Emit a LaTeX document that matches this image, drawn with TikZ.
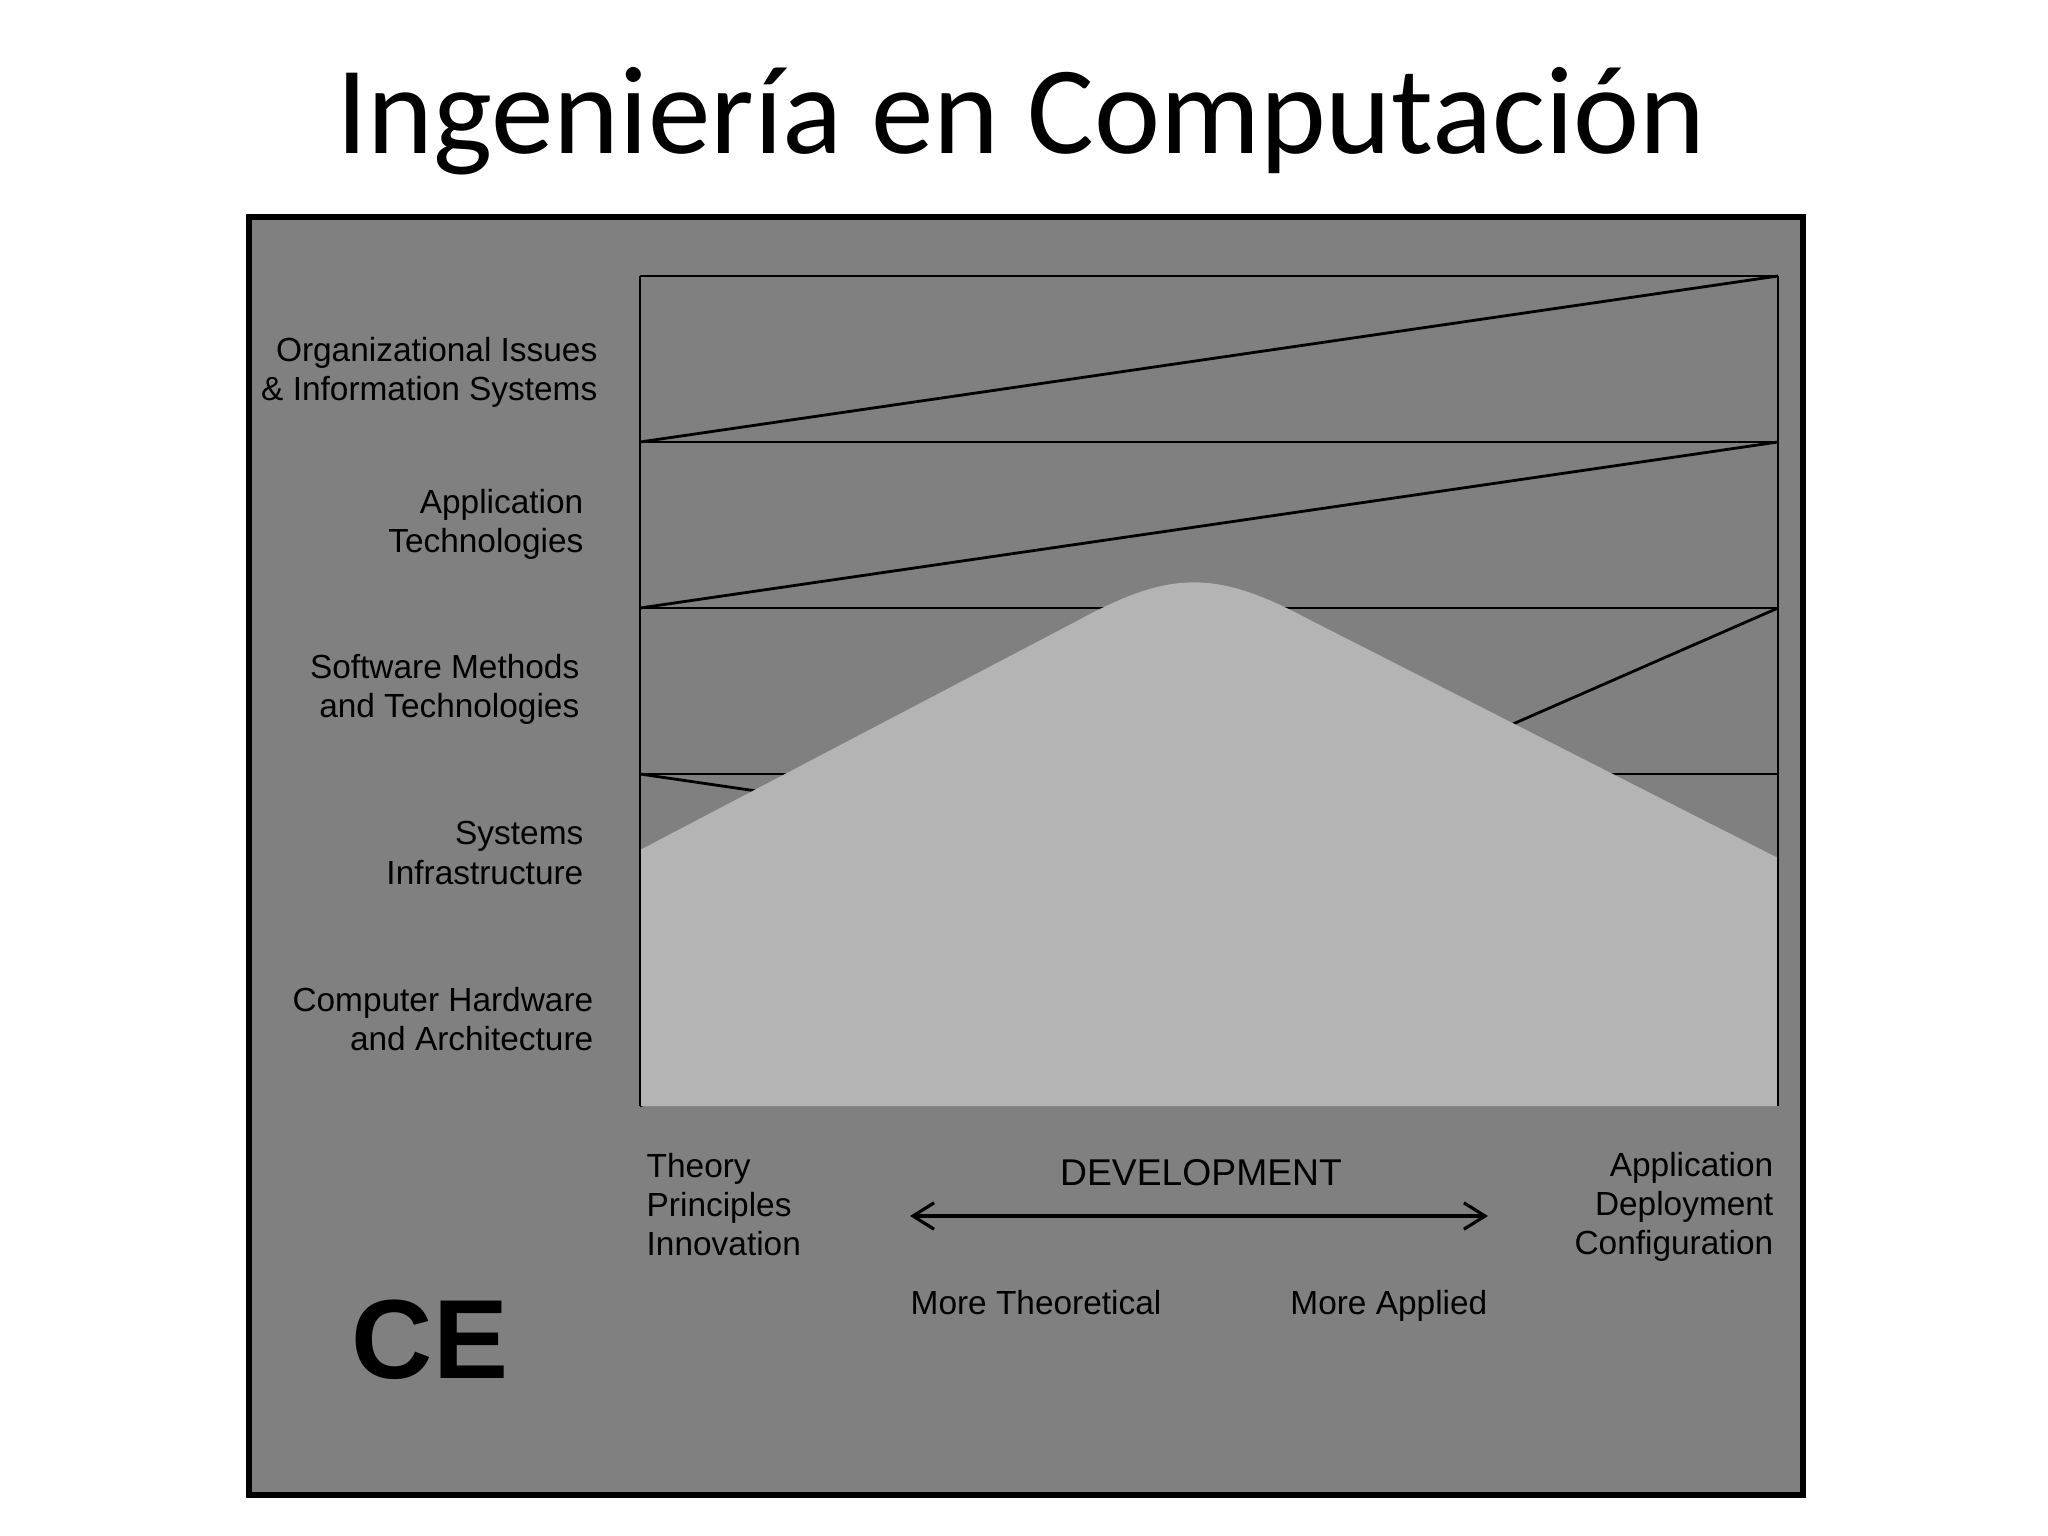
\documentclass[tikz,border=0pt]{standalone}
\usepackage{fontspec}
\setmainfont{Liberation Sans}
\newfontfamily\titrefont{Carlito}
\usetikzlibrary{arrows.meta}
\definecolor{mongris}{RGB}{128,128,128}
\definecolor{monclair}{RGB}{180,180,180}
\tikzset{
	etiquette/.style={align=right,anchor=east,inner sep=0pt,font=\fontsize{9.5}{11.1}\selectfont},
	trait/.style={line width=0.8pt},
	pointe/.tip={Straight Barb[length=6pt,width=7.5pt]}
}

\begin{document}
\begin{tikzpicture}[x=0.01cm,y=-0.01cm]
	\useasboundingbox (0,0) rectangle (2048,1536);
	% Titre %
	\node[anchor=base,inner sep=0pt] (titre) at (1021,153) {\titrefont\fontsize{35.6}{40}\selectfont Ingeniería en Computación};
	% Cadre %
	\filldraw[line width=1.7pt,fill=mongris] (249,217) rectangle (1803,1495);
	% Grille %
	\foreach \i in {0,...,5} {
		\coordinate (g\i) at (640,276+166*\i);
		\coordinate (d\i) at (1778,276+166*\i);
	}
	\foreach \i in {0,...,4} \draw[trait] (g\i) -- (d\i);
	\draw[trait] (g1) -- (d0);
	\draw[trait] (g2) -- (d1);
	\draw[trait] (d2) -- (g5);
	\draw[trait] (g3) -- (d4);
	% Colline %
	\fill[monclair] (640,850) -- (1075,622) .. controls (1170,570) and (1215,569) .. (1310,620) -- (1778,858) -- (d5) -- (g5) -- cycle;
	\draw[trait] (g0) -- (g5);
	\draw[trait] (d0) -- (d5);
	% Domaines %
	\node[etiquette] (orga) at (598,372) {Organizational Issues\\\& Information Systems};
	\node[etiquette] (appli) at (584,524) {Application\\Technologies};
	\node[etiquette] (logiciel) at (580,689) {Software Methods\\and Technologies};
	\node[etiquette] (systemes) at (584,853) {Systems\\Infrastructure};
	\node[etiquette] (materiel) at (594,1019) {Computer Hardware\\and Architecture};
	% Axe %
	\node[etiquette,anchor=west,align=left] (theorie) at (646,1205) {Theory\\Principles\\Innovation};
	\node[etiquette] (deploiement) at (1774,1207) {Application\\Deployment\\Configuration};
	\node[inner sep=0pt,anchor=base,font=\fontsize{10.6}{12}\selectfont] (dev) at (1201,1185) {DEVELOPMENT};
	\coordinate (flecheg) at (910,1216);
	\coordinate (fleched) at (1488,1216);
	\draw[line width=0.9pt,pointe-pointe] (flecheg) -- (fleched);
	\node[etiquette,anchor=west] (plustheo) at (910,1303) {More Theoretical};
	\node[etiquette] (plusappl) at (1488,1306) {More Applied};
	\node[inner sep=0pt,anchor=base,font=\bfseries\fontsize{32}{36}\selectfont] (ce) at (430,1378) {CE};
\end{tikzpicture}
\end{document}
